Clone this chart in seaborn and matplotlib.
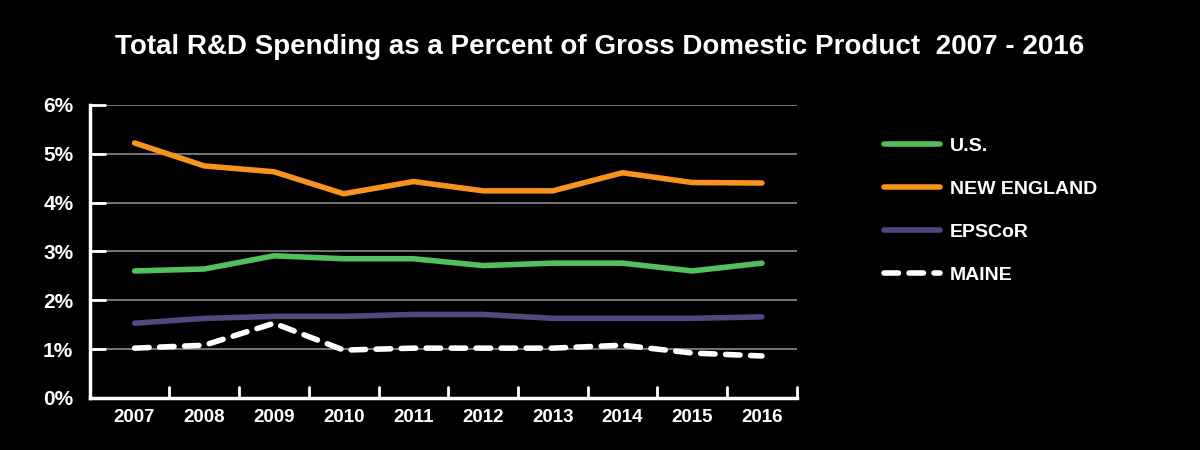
import matplotlib
matplotlib.use("Agg")
import matplotlib.pyplot as plt
import pandas as pd
import seaborn as sns

# Données (% du PIB)
years = ["2007", "2008", "2009", "2010", "2011", "2012", "2013", "2014", "2015", "2016"]
us = [2.60, 2.64, 2.91, 2.85, 2.85, 2.71, 2.76, 2.76, 2.60, 2.76]
new_england = [5.22, 4.75, 4.63, 4.18, 4.43, 4.24, 4.24, 4.61, 4.41, 4.40]
epscor = [1.53, 1.63, 1.67, 1.67, 1.71, 1.71, 1.63, 1.63, 1.63, 1.66]
maine = [1.02, 1.08, 1.53, 0.98, 1.02, 1.02, 1.02, 1.08, 0.92, 0.86]
series_names = ["U.S.", "NEW ENGLAND", "EPSCoR", "MAINE"]
y_ticks = [0, 1, 2, 3, 4, 5, 6]
y_labels = ["0%", "1%", "2%", "3%", "4%", "5%", "6%"]
title = "Total R&D Spending as a Percent of Gross Domestic Product  2007 - 2016"

colors = {"U.S.": "#52c05e", "NEW ENGLAND": "#f7931e", "EPSCoR": "#4d4a80", "MAINE": "#ffffff"}
dashes = {"U.S.": "", "NEW ENGLAND": "", "EPSCoR": "", "MAINE": (2.6, 1.9)}

df = pd.DataFrame({
    "Year": years * 4,
    "Value": us + new_england + epscor + maine,
    "Region": [n for n in series_names for _ in years],
})

sns.set_style("dark")
fonts = ["Liberation Sans", "DejaVu Sans"]
plt.rcParams["font.family"] = fonts

fig = plt.figure(figsize=(12, 4.5), dpi=100, facecolor="black")
ax = fig.add_axes([0.075, 0.1156, 0.589, 0.6514])
ax.set_facecolor("black")

sns.lineplot(data=df, x="Year", y="Value", hue="Region", style="Region",
             palette=colors, dashes=dashes, linewidth=4, ax=ax, sort=False)
for line in ax.get_lines():
    line.set_solid_capstyle("round")
    line.set_dash_capstyle("round")
    line.set_solid_joinstyle("round")

ax.set_xlim(-0.64, 9.5)
ax.set_ylim(0, 6)
ax.set_yticks(y_ticks)
ax.set_yticklabels(y_labels, fontsize=15, fontweight="bold", color="white")
ax.set_xticks(range(len(years)))
ax.set_xticklabels(years, fontsize=13.5, fontweight="bold", color="white")
ax.tick_params(axis="x", length=0, pad=8)
ax.tick_params(axis="y", length=0, pad=12)

# grille horizontale et petits repères
for v in y_ticks[1:]:
    ax.axhline(v, color="#8a8a8a", linewidth=1.2, zorder=0)
    ax.plot([-0.64, -0.43], [v, v], color="white", linewidth=2, clip_on=False, zorder=1)
for i in range(len(years)):
    ax.plot([i + 0.5, i + 0.5], [0, 0.22], color="white", linewidth=2, clip_on=False)

for side in ["top", "right"]:
    ax.spines[side].set_visible(False)
for side in ["left", "bottom"]:
    ax.spines[side].set_color("white")
    ax.spines[side].set_linewidth(2.5)
ax.grid(False)
ax.set_xlabel("")
ax.set_ylabel("")

handles, labels = ax.get_legend_handles_labels()
ax.legend_.remove()
leg = fig.legend(handles, labels, loc="upper left", bbox_to_anchor=(0.722, 0.733),
                 frameon=False, handlelength=2.9, handletextpad=0.5, labelspacing=1.3,
                 prop={"family": fonts, "weight": "bold", "size": 14})
for t in leg.get_texts():
    t.set_color("white")
for h in leg.legend_handles:
    h.set_linewidth(4)

fig.text(0.5, 0.895, title, ha="center", va="center", color="white",
         fontsize=20, fontweight="bold", family=fonts)

fig.savefig("out.png", dpi=100, facecolor="black")
